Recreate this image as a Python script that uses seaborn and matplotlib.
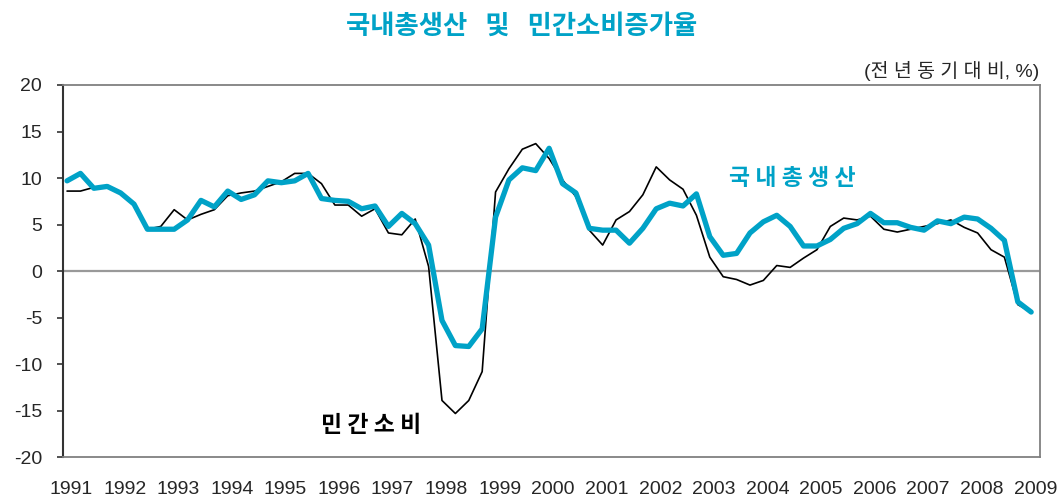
import numpy as np
import pandas as pd
import matplotlib
matplotlib.use("Agg")
import matplotlib.pyplot as plt
import seaborn as sns

# quarterly, 1991Q1 - 2009Q1, year-on-year growth (%)
years = [str(y) for y in range(1991, 2010)]
gdp = [9.7, 10.5, 8.9, 9.1,
       8.4, 7.2, 4.5, 4.5,
       4.5, 5.5, 7.6, 6.9,
       8.6, 7.7, 8.2, 9.7,
       9.5, 9.7, 10.5, 7.8,
       7.6, 7.5, 6.7, 7.0,
       4.8, 6.2, 5.1, 2.8,
       -5.3, -8.0, -8.1, -6.2,
       5.8, 9.8, 11.1, 10.8,
       13.2, 9.4, 8.4, 4.6,
       4.4, 4.4, 3.0, 4.6,
       6.7, 7.3, 7.0, 8.3,
       3.7, 1.7, 1.9, 4.1,
       5.3, 6.0, 4.8, 2.7,
       2.7, 3.4, 4.6, 5.1,
       6.2, 5.2, 5.2, 4.7,
       4.4, 5.4, 5.1, 5.8,
       5.6, 4.6, 3.3, -3.3,
       -4.4]
consumption = [8.6, 8.6, 9.0, 9.0,
               8.4, 7.2, 4.5, 4.8,
               6.6, 5.5, 6.1, 6.6,
               8.1, 8.4, 8.6, 9.1,
               9.6, 10.5, 10.5, 9.4,
               7.1, 7.1, 5.9, 6.7,
               4.1, 3.9, 5.6, 0.5,
               -13.9, -15.3, -13.9, -10.8,
               8.5, 11.0, 13.1, 13.7,
               12.1, 9.8, 8.0, 4.4,
               2.8, 5.5, 6.4, 8.2,
               11.2, 9.8, 8.8, 6.0,
               1.5, -0.6, -0.9, -1.5,
               -1.0, 0.6, 0.4, 1.4,
               2.3, 4.8, 5.7, 5.5,
               5.9, 4.5, 4.2, 4.5,
               4.8, 5.1, 5.5, 4.7,
               4.1, 2.3, 1.5, -3.6,
               -4.4]

df = pd.DataFrame({"q": np.arange(len(gdp)), "gdp": gdp, "cons": consumption})

teal = "#00A2C7"
sns.set_style("white")
plt.rcParams["font.family"] = ["Liberation Sans", "Noto Sans CJK KR", "DejaVu Sans"]
plt.rcParams["axes.unicode_minus"] = False

fig, ax = plt.subplots(figsize=(10.63, 4.97), dpi=100)
fig.subplots_adjust(left=0.0593, right=0.978, top=0.829, bottom=0.080)

ax.axhline(0, color="#999999", lw=1.6, zorder=1)
sns.lineplot(data=df, x="q", y="cons", color="black", lw=1.2, ax=ax, zorder=2)
sns.lineplot(data=df, x="q", y="gdp", color=teal, lw=3.8, ax=ax, zorder=3)

ax.set_xlim(-0.3, len(gdp) - 1 + 0.63)
ax.set_ylim(-20, 20)
ax.set_yticks(range(-20, 21, 5))
ax.set_xticks([4 * i + 0.3 for i in range(len(years))])
ax.set_xticklabels(years, fontsize=14)
ax.tick_params(axis="x", length=0, pad=17)
ax.tick_params(axis="y", left=True, length=4, width=1.2, color="#333333", labelsize=14, pad=11)
ax.set_xlabel("")
ax.set_ylabel("")

for side in ["top", "right", "bottom"]:
    ax.spines[side].set_color("#808080")
    ax.spines[side].set_linewidth(1.3)
ax.spines["left"].set_color("#333333")
ax.spines["left"].set_linewidth(1.5)

fig.text(0.491, 0.948, "국내총생산   및   민간소비증가율", ha="center", va="center",
         fontsize=19, fontweight="bold", color=teal, family=["Noto Sans CJK KR"])
ax.text(1.0, 1.01, "(전 년 동 기 대 비, %)", transform=ax.transAxes, ha="right", va="bottom",
        fontsize=14, family=["Liberation Sans", "Noto Sans CJK KR"])
ax.text(49.4, 10.0, "국 내 총 생 산", ha="left", va="center", fontsize=16.5,
        fontweight="bold", color=teal, family=["Noto Sans CJK KR"])
ax.text(19.0, -16.6, "민 간 소 비", ha="left", va="center", fontsize=16.5,
        fontweight="bold", color="black", family=["Noto Sans CJK KR"])

fig.savefig("out.png", dpi=100)
